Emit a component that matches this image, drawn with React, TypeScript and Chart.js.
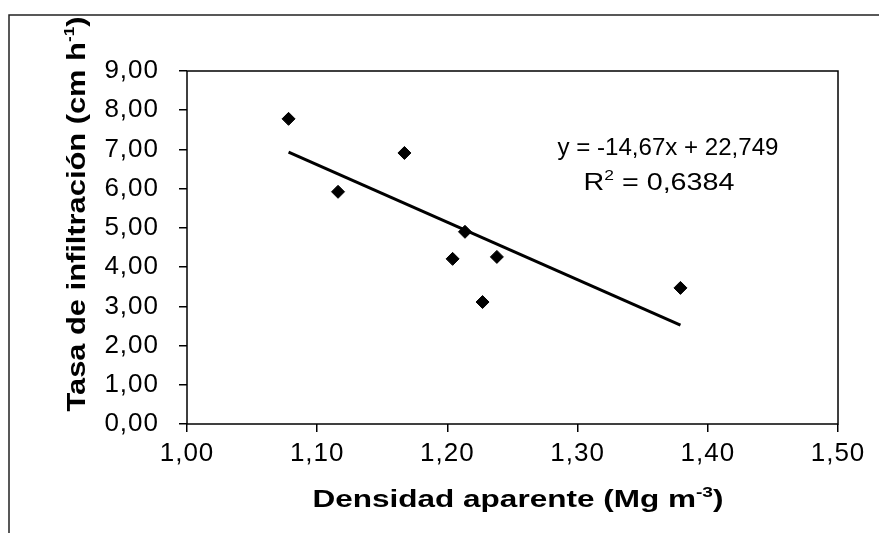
import React, { useEffect, useRef } from "react";
import { Chart, registerables } from "chart.js";

Chart.register(...registerables);

// ---- Data ----
const densidadAparente = [1.078, 1.116, 1.167, 1.2135, 1.204, 1.238, 1.227, 1.379];
const tasaInfiltracion = [7.78, 5.92, 6.91, 4.9, 4.21, 4.26, 3.11, 3.47];
const pendiente = -14.67;
const intercepto = 22.749;
const ecuacionTexto = "y = -14,67x + 22,749";
const r2Valor = "0,6384";
const xTituloPartes = ["Densidad aparente (Mg m", "-3", ")"];
const yTituloPartes = ["Tasa de infiltración (cm h", "-1", ")"];
const xLimites = [1.0, 1.5];
const xPaso = 0.1;
const yLimites = [0, 9];
const yPaso = 1;

const FONT = "'Liberation Sans', Arial, Helvetica, sans-serif";
const fmt = (v: number) => v.toFixed(2).replace(".", ",");

type Seg = { t: string; font: string; dy: number };

function drawSegs(ctx: CanvasRenderingContext2D, segs: Seg[], targetW: number) {
  let total = 0;
  const widths = segs.map((s) => {
    ctx.font = s.font;
    const w = ctx.measureText(s.t).width;
    total += w;
    return w;
  });
  const sx = targetW / total;
  ctx.scale(sx, 1);
  let x = -total / 2;
  segs.forEach((s, i) => {
    ctx.font = s.font;
    ctx.fillText(s.t, x, s.dy);
    x += widths[i];
  });
}

const decorPlugin = {
  id: "decor",
  beforeDraw(chart: any) {
    (chart.ctx as any).letterSpacing = "1px";
  },
  beforeDatasetsDraw(chart: any) {
    (chart.ctx as any).letterSpacing = "0px";
  },
  afterDraw(chart: any) {
    const ctx: CanvasRenderingContext2D = chart.ctx;
    const a = chart.chartArea;
    (ctx as any).letterSpacing = "0px";
    ctx.save();
    // outer frame (scan border)
    ctx.strokeStyle = "#222";
    ctx.lineWidth = 1.5;
    ctx.beginPath();
    ctx.moveTo(9, 533);
    ctx.lineTo(9, 15);
    ctx.lineTo(879, 15);
    ctx.stroke();
    // plot frame
    ctx.strokeStyle = "#000";
    ctx.lineWidth = 1.5;
    ctx.strokeRect(a.left, a.top, a.right - a.left, a.bottom - a.top);
    ctx.fillStyle = "#000";
    ctx.textBaseline = "alphabetic";
    ctx.textAlign = "left";

    // X title
    ctx.save();
    ctx.translate(518, 507);
    drawSegs(
      ctx,
      [
        { t: xTituloPartes[0], font: `bold 23px ${FONT}`, dy: 0 },
        { t: xTituloPartes[1], font: `bold 14px ${FONT}`, dy: -10 },
        { t: xTituloPartes[2], font: `bold 23px ${FONT}`, dy: 0 },
      ],
      411
    );
    ctx.restore();

    // Y title
    ctx.save();
    ctx.translate(85, 214);
    ctx.rotate(-Math.PI / 2);
    drawSegs(
      ctx,
      [
        { t: yTituloPartes[0], font: `bold 25px ${FONT}`, dy: 0 },
        { t: yTituloPartes[1], font: `bold 14px ${FONT}`, dy: -11 },
        { t: yTituloPartes[2], font: `bold 25px ${FONT}`, dy: 0 },
      ],
      395
    );
    ctx.restore();

    // Equation
    ctx.save();
    ctx.translate(668, 155);
    drawSegs(ctx, [{ t: ecuacionTexto, font: `23px ${FONT}`, dy: 0 }], 221);
    ctx.restore();

    ctx.save();
    ctx.translate(659, 190);
    drawSegs(
      ctx,
      [
        { t: "R", font: `23px ${FONT}`, dy: 0 },
        { t: "2", font: `14px ${FONT}`, dy: -10 },
        { t: " = " + r2Valor, font: `23px ${FONT}`, dy: 0 },
      ],
      151
    );
    ctx.restore();
    ctx.restore();
  },
};

export default function App() {
  const ref = useRef<HTMLCanvasElement | null>(null);

  useEffect(() => {
    if (!ref.current) return;
    const minX = Math.min(...densidadAparente);
    const maxX = Math.max(...densidadAparente);
    const tendencia = [
      { x: minX, y: pendiente * minX + intercepto },
      { x: maxX, y: pendiente * maxX + intercepto },
    ];
    const puntos = densidadAparente.map((x, i) => ({ x, y: tasaInfiltracion[i] }));

    const tickFont = { family: FONT, size: 26 };

    const chart = new Chart(ref.current, {
      type: "scatter",
      data: {
        datasets: [
          {
            label: "Tendencia",
            data: tendencia,
            showLine: true,
            borderColor: "#000",
            borderWidth: 3,
            pointRadius: 0,
            fill: false,
          } as any,
          {
            label: "Datos",
            data: puntos,
            pointStyle: "rectRot",
            pointRadius: 6.5,
            backgroundColor: "#000",
            borderColor: "#000",
            borderWidth: 1,
          } as any,
        ],
      },
      options: {
        responsive: false,
        devicePixelRatio: 1,
        animation: false,
        layout: { padding: { left: 0, right: 41, top: 71, bottom: 0 } },
        plugins: {
          legend: { display: false },
          tooltip: { enabled: false },
        },
        scales: {
          x: {
            type: "linear",
            min: xLimites[0],
            max: xLimites[1],
            ticks: {
              stepSize: xPaso,
              callback: (v: any) => fmt(Number(v)),
              font: tickFont,
              color: "#000",
              padding: 6,
              maxRotation: 0,
              autoSkip: false,
            },
            grid: {
              display: true,
              drawOnChartArea: false,
              drawTicks: true,
              tickLength: 8,
              color: "#000",
              lineWidth: 1.5,
            },
            border: { display: false },
            afterFit: (s: any) => {
              s.height = 109;
            },
          },
          y: {
            type: "linear",
            min: yLimites[0],
            max: yLimites[1],
            ticks: {
              stepSize: yPaso,
              callback: (v: any) => fmt(Number(v)),
              font: tickFont,
              color: "#000",
              padding: 20,
              autoSkip: false,
            },
            grid: {
              display: true,
              drawOnChartArea: false,
              drawTicks: true,
              tickLength: 8,
              color: "#000",
              lineWidth: 1.5,
            },
            border: { display: false },
            afterFit: (s: any) => {
              s.width = 187;
            },
          },
        },
      } as any,
      plugins: [decorPlugin],
    });
    return () => chart.destroy();
  }, []);

  return (
    <div style={{ position: "fixed", left: 0, top: 0, width: 879, height: 533, background: "#fff" }}>
      <canvas ref={ref} width={879} height={533} style={{ display: "block" }} />
    </div>
  );
}
